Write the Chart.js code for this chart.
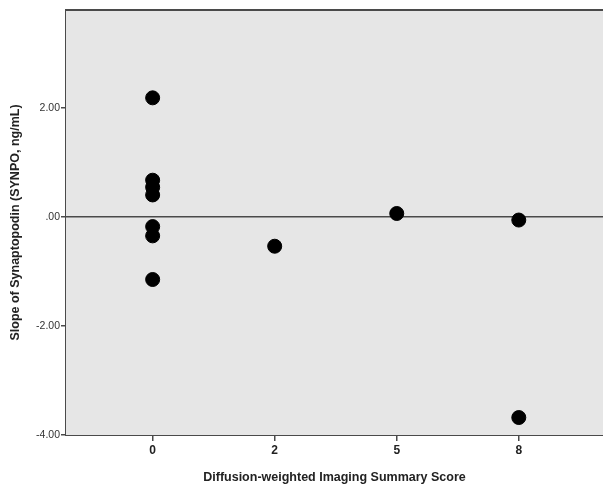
<!DOCTYPE html>
<html>
<head>
<meta charset="utf-8">
<script src="https://cdn.jsdelivr.net/npm/chart.js@4/dist/chart.umd.min.js"></script>
<style>
  html, body { margin: 0; padding: 0; background: #fff; }
  #wrap { width: 603px; height: 487px; }
</style>
</head>
<body>
<div id="wrap"><canvas id="chart"></canvas></div>
<script>
// x categories (DWI summary score) and the y tick values
const xLabels = ['0', '2', '5', '8'];
const yTicks = [-4, -2, 0, 2];

// one entry per subject
const scores = [0, 0, 0, 0, 0, 0, 0, 2, 5, 8, 8];
const slopes = [2.18, 0.67, 0.54, 0.40, -0.18, -0.35, -1.15, -0.54, 0.06, -0.06, -3.68];

const axisColor = '#4a4a4a';
const plotBg = '#e6e6e6';

// plot background, top border and reference line at y = 0
const framePlugin = {
    id: 'frame',
    beforeDatasetsDraw(chart) {
        const { ctx, chartArea: a, scales } = chart;
        ctx.save();
        ctx.fillStyle = plotBg;
        ctx.fillRect(a.left, a.top, a.right - a.left, a.bottom - a.top);
        ctx.strokeStyle = axisColor;
        ctx.lineWidth = 2;
        ctx.beginPath();
        ctx.moveTo(a.left, a.top);
        ctx.lineTo(a.right, a.top);
        ctx.stroke();
        const y0 = scales.y.getPixelForValue(0);
        ctx.lineWidth = 1.5;
        ctx.beginPath();
        ctx.moveTo(a.left, y0);
        ctx.lineTo(a.right, y0);
        ctx.stroke();
        ctx.restore();
    }
};

new Chart(document.getElementById('chart'), {
    type: 'scatter',
    data: {
        datasets: [{
            data: scores.map((s, i) => ({ x: xLabels.indexOf(String(s)), y: slopes[i] })),
            backgroundColor: '#000',
            borderColor: '#000',
            pointRadius: 7,
            pointHoverRadius: 7
        }]
    },
    options: {
        responsive: true,
        maintainAspectRatio: false,
        animation: false,
        layout: { autoPadding: false, padding: { top: 10, right: 0, left: 0, bottom: 0 } },
        plugins: { legend: { display: false }, tooltip: { enabled: false } },
        scales: {
            x: {
                type: 'linear',
                min: -0.71,
                max: 3.69,
                afterBuildTicks: s => { s.ticks = xLabels.map((_, i) => ({ value: i })); },
                afterFit: s => { s.height = 52; },
                ticks: {
                    callback: v => xLabels[v],
                    color: '#222',
                    font: { family: "'Liberation Sans Narrow', 'Liberation Sans', Arial", size: 12, weight: 'bold' },
                    padding: 2
                },
                grid: { drawOnChartArea: false, color: axisColor, tickLength: 6, lineWidth: 1.5 },
                border: { color: axisColor, width: 2 },
                title: {
                    display: true,
                    text: 'Diffusion-weighted Imaging Summary Score',
                    color: '#222',
                    font: { family: "'Liberation Sans', Arial", size: 12.5, weight: 'bold' },
                    padding: { top: 6, bottom: 2 }
                }
            },
            y: {
                min: -4,
                max: 3.79,
                afterBuildTicks: s => { s.ticks = yTicks.map(v => ({ value: v })); },
                afterFit: s => { s.width = 66; },
                ticks: {
                    callback: v => v === 0 ? '.00' : v.toFixed(2),
                    color: '#333',
                    font: { family: "'Liberation Sans Narrow', 'Liberation Sans', Arial", size: 10.5 },
                    padding: 1
                },
                grid: { drawOnChartArea: false, color: axisColor, tickLength: 5, lineWidth: 1.5 },
                border: { color: axisColor, width: 2 },
                title: {
                    display: true,
                    text: 'Slope of Synaptopodin (SYNPO, ng/mL)',
                    color: '#222',
                    font: { family: "'Liberation Sans', Arial", size: 12.5, weight: 'bold' },
                    padding: { top: 8, bottom: 0 }
                }
            }
        }
    },
    plugins: [framePlugin]
});
</script>
</body>
</html>
